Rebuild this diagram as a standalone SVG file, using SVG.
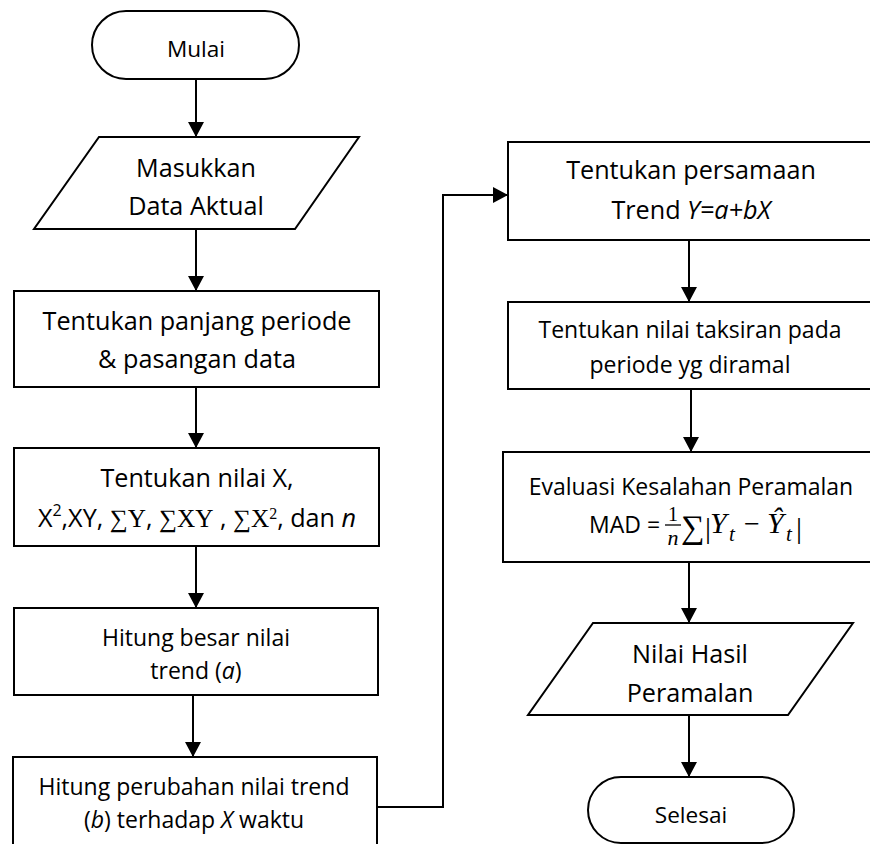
<svg xmlns="http://www.w3.org/2000/svg" width="870" height="844" viewBox="0 0 870 844">
<defs>
<style>
.sh{fill:#fff;stroke:#000;stroke-width:2}
.c{fill:none;stroke:#000;stroke-width:2;marker-end:url(#ah)}
.t{font-family:'Open Sans','Noto Sans',sans-serif;fill:#000;text-anchor:middle}
.big{font-size:25.2px}
.sm{font-size:23px}
.tm{font-size:22.6px}
.m{font-family:'Liberation Serif','DejaVu Serif',serif}
.i{font-style:italic}
.ms{font-family:'Liberation Serif','DejaVu Serif',serif;fill:#000}
</style>
<marker id="ah" markerUnits="userSpaceOnUse" markerWidth="16" markerHeight="16" refX="15" refY="8" orient="auto">
<path d="M0,0 L15,8 L0,16 z" fill="#000"/>
</marker>
</defs>
<rect width="870" height="844" fill="#fff"/>

<g id="connectors">
<line class="c" x1="196" y1="79" x2="196" y2="137"/>
<line class="c" x1="196" y1="229" x2="196" y2="291"/>
<line class="c" x1="196" y1="387" x2="196" y2="448"/>
<line class="c" x1="196" y1="546" x2="196" y2="608"/>
<line class="c" x1="193" y1="695" x2="193" y2="757"/>
<polyline class="c" points="377,807 443,807 443,195 508,195"/>
<line class="c" x1="689" y1="240" x2="689" y2="302"/>
<line class="c" x1="691" y1="389" x2="691" y2="452"/>
<line class="c" x1="689" y1="562" x2="689" y2="623"/>
<line class="c" x1="689" y1="715" x2="689" y2="777"/>
</g>

<g id="mulai">
<rect class="sh" x="92" y="11" width="207" height="68" rx="34" ry="34"/>
<text class="t tm" x="196" y="57">Mulai</text>
</g>

<g id="masukkan-data">
<polygon class="sh" points="99,137 359,137 295,229 34,229"/>
<text class="t big" x="196" y="177">Masukkan</text>
<text class="t big" x="196" y="215">Data Aktual</text>
</g>

<g id="panjang-periode">
<rect class="sh" x="14" y="291" width="365" height="96"/>
<text class="t big" x="197" y="330">Tentukan panjang periode</text>
<text class="t big" x="197" y="368">&amp; pasangan data</text>
</g>

<g id="nilai-x">
<rect class="sh" x="14" y="448" width="365" height="98"/>
<text class="t big" x="197" y="487">Tentukan nilai X,</text>
<text class="t big" x="197" y="527" font-size="24">X<tspan font-size="16" baseline-shift="super">2</tspan>,XY, <tspan class="m">∑Y</tspan>, <tspan class="m">∑XY</tspan> , <tspan class="m">∑X<tspan font-size="16" baseline-shift="super">2</tspan></tspan>, dan <tspan class="i">n</tspan></text>
</g>

<g id="hitung-a">
<rect class="sh" x="14" y="608" width="364" height="87"/>
<text class="t sm" x="196" y="646">Hitung besar nilai</text>
<text class="t sm" x="196" y="679">trend (<tspan class="i">a</tspan>)</text>
</g>

<g id="hitung-b">
<rect class="sh" x="13" y="757" width="364" height="100"/>
<text class="t sm" x="194" y="795">Hitung perubahan nilai trend</text>
<text class="t sm" x="194" y="828">(<tspan class="i">b</tspan>) terhadap <tspan class="i">X</tspan> waktu</text>
</g>

<g id="persamaan-trend">
<rect class="sh" x="508" y="142" width="366" height="98"/>
<text class="t big" x="691" y="179">Tentukan persamaan</text>
<text class="t big" x="691" y="219">Trend <tspan class="i">Y=a+bX</tspan></text>
</g>

<g id="nilai-taksiran">
<rect class="sh" x="508" y="302" width="366" height="87"/>
<text class="t sm" x="690" y="338">Tentukan nilai taksiran pada</text>
<text class="t sm" x="690" y="373">periode yg diramal</text>
</g>

<g id="evaluasi">
<rect class="sh" x="503" y="452" width="376" height="110"/>
<text class="t sm" x="691" y="495">Evaluasi Kesalahan Peramalan</text>
<text class="t sm" x="589" y="533" style="text-anchor:start">MAD =</text>
<text class="ms" x="673" y="521" font-size="20" text-anchor="middle">1</text>
<line x1="665" y1="525" x2="681" y2="525" stroke="#000" stroke-width="1.3"/>
<text class="ms" x="673" y="545" font-size="22" font-style="italic" text-anchor="middle">n</text>
<text class="ms" x="681" y="538" font-size="33">∑</text>
<text class="ms" x="705" y="538" font-size="30">|</text>
<text class="ms" x="710" y="533" font-size="30" font-style="italic">Y</text>
<text class="ms" x="729" y="541" font-size="21" font-style="italic">t</text>
<text class="ms" x="744" y="533" font-size="28">−</text>
<text class="ms" x="767" y="533" font-size="30" font-style="italic">Ŷ</text>
<text class="ms" x="786" y="541" font-size="21" font-style="italic">t</text>
<text class="ms" x="796" y="538" font-size="30">|</text>
</g>

<g id="hasil-peramalan">
<polygon class="sh" points="593,623 853,623 788,715 528,715"/>
<text class="t big" x="690" y="663">Nilai Hasil</text>
<text class="t big" x="690" y="702">Peramalan</text>
</g>

<g id="selesai">
<rect class="sh" x="588" y="777" width="206" height="66" rx="33" ry="33"/>
<text class="t tm" x="691" y="823">Selesai</text>
</g>
</svg>
